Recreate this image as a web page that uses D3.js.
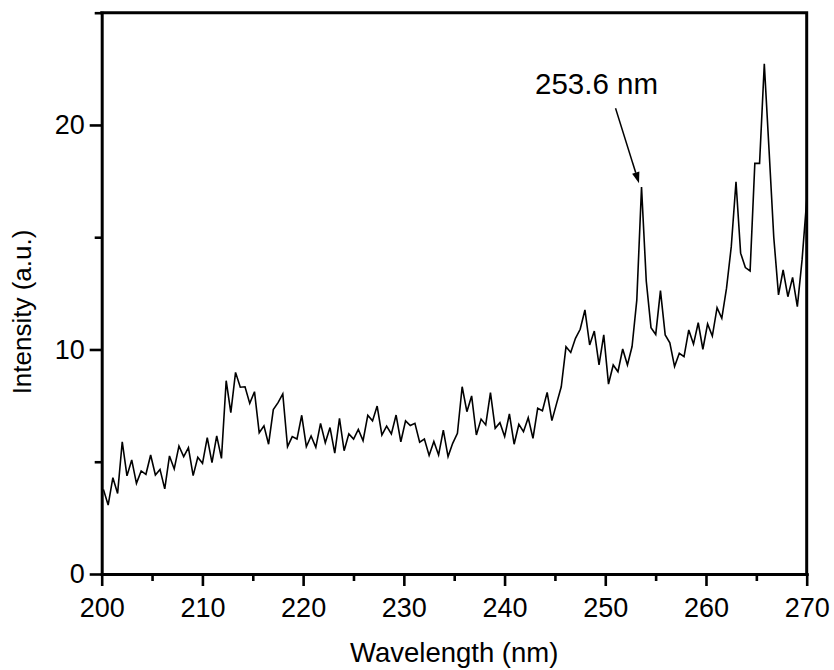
<!DOCTYPE html>
<html>
<head>
<meta charset="utf-8">
<script src="https://cdn.jsdelivr.net/npm/d3@7"></script>
<style>
  html, body { margin: 0; padding: 0; background: #fff; }
  svg { display: block; font-family: "Liberation Sans", Arial, sans-serif; }
</style>
</head>
<body>
<svg id="chart" width="834" height="670"></svg>
<script>
// Emission spectrum: wavelength grid (nm) and measured intensity (a.u.)
const wavelength = [
  200.17, 200.64, 201.11, 201.58, 202.04, 202.51, 202.98, 203.45, 203.92, 204.39,
  204.86, 205.33, 205.79, 206.26, 206.73, 207.20, 207.67, 208.14, 208.61, 209.08,
  209.54, 210.01, 210.48, 210.95, 211.42, 211.89, 212.36, 212.82, 213.29, 213.76,
  214.23, 214.70, 215.17, 215.64, 216.11, 216.57, 217.04, 217.51, 217.98, 218.45,
  218.92, 219.39, 219.86, 220.32, 220.79, 221.26, 221.73, 222.20, 222.67, 223.14,
  223.61, 224.07, 224.54, 225.01, 225.48, 225.95, 226.42, 226.89, 227.35, 227.82,
  228.29, 228.76, 229.23, 229.70, 230.17, 230.64, 231.10, 231.57, 232.04, 232.51,
  232.98, 233.45, 233.92, 234.39, 234.85, 235.32, 235.79, 236.26, 236.73, 237.20,
  237.67, 238.13, 238.60, 239.07, 239.54, 240.01, 240.48, 240.95, 241.42, 241.88,
  242.35, 242.82, 243.29, 243.76, 244.23, 244.70, 245.17, 245.63, 246.10, 246.57,
  247.04, 247.51, 247.98, 248.45, 248.91, 249.38, 249.85, 250.32, 250.79, 251.26,
  251.73, 252.20, 252.66, 253.13, 253.60, 254.07, 254.54, 255.01, 255.48, 255.95,
  256.41, 256.88, 257.35, 257.82, 258.29, 258.76, 259.23, 259.69, 260.16, 260.63,
  261.10, 261.57, 262.04, 262.51, 262.98, 263.44, 263.91, 264.38, 264.85, 265.32,
  265.79, 266.26, 266.73, 267.20, 267.66, 268.13, 268.60, 269.07, 269.54, 270.01
];

const intensity = [
  3.77, 3.07, 4.29, 3.59, 5.89, 4.37, 5.08, 4.04, 4.59, 4.44,
  5.30, 4.41, 4.66, 3.79, 5.26, 4.68, 5.70, 5.23, 5.63, 4.38,
  5.20, 4.93, 6.07, 4.96, 6.15, 5.15, 8.61, 7.19, 8.98, 8.32,
  8.34, 7.60, 8.12, 6.29, 6.60, 5.78, 7.32, 7.63, 8.02, 5.67,
  6.12, 6.01, 7.07, 5.67, 6.15, 5.64, 6.71, 5.85, 6.52, 5.38,
  6.93, 5.49, 6.24, 6.01, 6.44, 5.94, 7.07, 6.82, 7.48, 6.19,
  6.59, 6.24, 7.08, 5.89, 6.82, 6.61, 6.71, 5.87, 6.01, 5.28,
  5.90, 5.30, 6.41, 5.23, 5.82, 6.27, 8.34, 7.23, 7.93, 6.19,
  6.90, 6.64, 8.08, 6.49, 6.74, 6.12, 7.13, 5.78, 6.67, 6.34,
  6.96, 6.04, 7.38, 7.27, 8.09, 6.83, 7.60, 8.34, 10.12, 9.87,
  10.50, 10.90, 11.76, 10.20, 10.82, 9.31, 10.65, 8.46, 9.31, 9.01,
  10.02, 9.31, 10.13, 12.20, 17.23, 13.05, 10.97, 10.67, 12.62, 10.65,
  10.30, 9.24, 9.83, 9.68, 10.87, 10.24, 11.19, 10.01, 11.14, 10.60,
  11.86, 11.39, 12.73, 14.58, 17.47, 14.29, 13.65, 13.50, 18.29, 18.29,
  22.72, 18.90, 15.00, 12.43, 13.54, 12.35, 13.21, 11.91, 13.99, 16.70
];

const xTicks = [200, 210, 220, 230, 240, 250, 260, 270];
const xMinorTicks = [205, 215, 225, 235, 245, 255, 265];
const yTicks = [0, 10, 20];
const yMinorTicks = [5, 15, 25];

const xTitle = "Wavelength (nm)";
const yTitle = "Intensity (a.u.)";
const peakWavelength = 253.6;
const peakLabel = "253.6 nm";

// ---- layout ----
const svg = d3.select("#chart");
const plot = { left: 101.7, right: 806.7, top: 12.7, bottom: 574 };
const axisWidth = 3;
const fontSize = 27;

const x = d3.scaleLinear().domain([200, 270]).range([plot.left, plot.right]);
const y = d3.scaleLinear().domain([0, 25]).range([plot.bottom, plot.top]);

const points = wavelength.map((w, i) => [w, intensity[i]]);

// clip the trace to the frame
svg.append("defs").append("clipPath").attr("id", "plot-clip")
  .append("rect")
  .attr("x", plot.left).attr("y", plot.top)
  .attr("width", plot.right - plot.left).attr("height", plot.bottom - plot.top);

// spectrum trace
svg.append("path")
  .datum(points)
  .attr("clip-path", "url(#plot-clip)")
  .attr("fill", "none")
  .attr("stroke", "#000")
  .attr("stroke-width", 1.6)
  .attr("stroke-linejoin", "miter")
  .attr("d", d3.line().x(d => x(d[0])).y(d => y(d[1])));

// frame: top and right borders
svg.append("path")
  .attr("fill", "none")
  .attr("stroke", "#000")
  .attr("stroke-width", axisWidth)
  .attr("stroke-linecap", "square")
  .attr("d", `M${plot.left},${plot.top}H${plot.right}V${plot.bottom}`);

function styleAxis(g) {
  g.select(".domain").attr("stroke-width", axisWidth).attr("stroke-linecap", "square");
  g.selectAll(".tick line").attr("stroke-width", 2.6);
  g.selectAll(".tick text")
    .attr("font-family", "'Liberation Sans', Arial, sans-serif")
    .attr("font-size", fontSize)
    .attr("fill", "#000");
}

// bottom axis: minor then major ticks
svg.append("g")
  .attr("transform", `translate(0,${plot.bottom})`)
  .call(d3.axisBottom(x).tickValues(xMinorTicks).tickSize(7).tickSizeOuter(0).tickFormat(""))
  .call(g => g.select(".domain").remove())
  .call(g => g.selectAll(".tick line").attr("stroke-width", 2.6));

svg.append("g")
  .attr("transform", `translate(0,${plot.bottom})`)
  .call(d3.axisBottom(x).tickValues(xTicks).tickSize(12).tickSizeOuter(0).tickPadding(10).tickFormat(d3.format("d")))
  .call(styleAxis)
  .call(g => g.selectAll(".tick text").attr("dy", "0.78em"));

// left axis: minor then major ticks
svg.append("g")
  .attr("transform", `translate(${plot.left},0)`)
  .call(d3.axisLeft(y).tickValues(yMinorTicks).tickSize(7).tickSizeOuter(0).tickFormat(""))
  .call(g => g.select(".domain").remove())
  .call(g => g.selectAll(".tick line").attr("stroke-width", 2.6));

svg.append("g")
  .attr("transform", `translate(${plot.left},0)`)
  .call(d3.axisLeft(y).tickValues(yTicks).tickSize(12).tickSizeOuter(0).tickPadding(5).tickFormat(d3.format("d")))
  .call(styleAxis);

// axis titles
svg.append("text")
  .attr("x", (plot.left + plot.right) / 2)
  .attr("y", 662)
  .attr("text-anchor", "middle")
  .attr("font-size", 27.5)
  .text(xTitle);

svg.append("text")
  .attr("transform", `translate(31,312) rotate(-90)`)
  .attr("text-anchor", "middle")
  .attr("font-size", 26)
  .text(yTitle);

// peak annotation with arrow
const peakIndex = wavelength.indexOf(peakWavelength);
const tip = [x(peakWavelength) - 2.5, y(intensity[peakIndex]) - 4];
const tail = [tip[0] - 23.5, tip[1] - 75];

svg.append("text")
  .attr("x", tip[0] - 104)
  .attr("y", tip[1] - 89)
  .attr("font-size", 29.5)
  .text(peakLabel);

const ang = Math.atan2(tip[1] - tail[1], tip[0] - tail[0]);
const headLen = 11, headHalf = 3.8;
const base = [tip[0] - headLen * Math.cos(ang), tip[1] - headLen * Math.sin(ang)];
svg.append("line")
  .attr("x1", tail[0]).attr("y1", tail[1])
  .attr("x2", base[0]).attr("y2", base[1])
  .attr("stroke", "#000").attr("stroke-width", 1.5);
svg.append("path")
  .attr("fill", "#000")
  .attr("d", d3.line()([
    tip,
    [base[0] + headHalf * Math.sin(ang), base[1] - headHalf * Math.cos(ang)],
    [base[0] - headHalf * Math.sin(ang), base[1] + headHalf * Math.cos(ang)]
  ]) + "Z");
</script>
</body>
</html>
